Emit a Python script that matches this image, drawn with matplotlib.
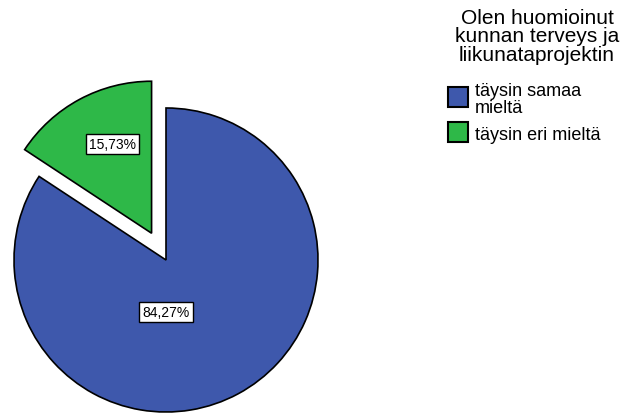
import matplotlib
matplotlib.use('Agg')
import matplotlib.pyplot as plt
from matplotlib.patches import Rectangle

# answer shares (%)
categories = ['täysin samaa\nmieltä', 'täysin eri mieltä']
percents = [84.27, 15.73]
colors = ['#3e58ac', '#2eb848']
explode = [0, 0.2]
legend_title = 'Olen huomioinut\nkunnan terveys ja\nliikunataprojektin'

plt.rcParams['font.family'] = ['Liberation Sans', 'DejaVu Sans']

W, H = 621, 414


def fx(px):
    return px / W


def fy(py):
    return 1 - py / H


fig = plt.figure(figsize=(W / 100, H / 100), dpi=100)
ax = fig.add_axes([0, 0, 1, 1])
ax.axis('off')

wedges, _ = ax.pie(percents, colors=colors, explode=explode, startangle=90,
                   counterclock=False,
                   wedgeprops=dict(edgecolor='black', linewidth=1.2))
# pie centre at (166, 261) px, radius 152 px
ax.set_xlim(-166 / 152, (W - 166) / 152)
ax.set_ylim(-(H - 261) / 152, 261 / 152)
ax.set_aspect('auto')

# percentage labels
label_pos = [(0.0, -0.34), (-0.352, 0.763)]
for (x, y), p in zip(label_pos, percents):
    ax.text(x, y, f'{p:.2f}%'.replace('.', ','), ha='center', va='center',
            fontsize=10,
            bbox=dict(boxstyle='square,pad=0.22', fc='white', ec='black', lw=1))

# legend
fig.text(fx(537), fy(37), legend_title, ha='center', va='center',
         fontsize=15, linespacing=0.98)
ys = [88, 123]
for y, c, lab in zip(ys, colors, categories):
    fig.patches.append(Rectangle((fx(448), fy(y + 20)), 20 / W, 20 / H,
                                 transform=fig.transFigure, fc=c, ec='black',
                                 lw=1.5))
    fig.text(fx(475), fy(y + 12), lab, ha='left', va='center', fontsize=13,
             linespacing=1.0)

fig.savefig('out.png', dpi=100)
